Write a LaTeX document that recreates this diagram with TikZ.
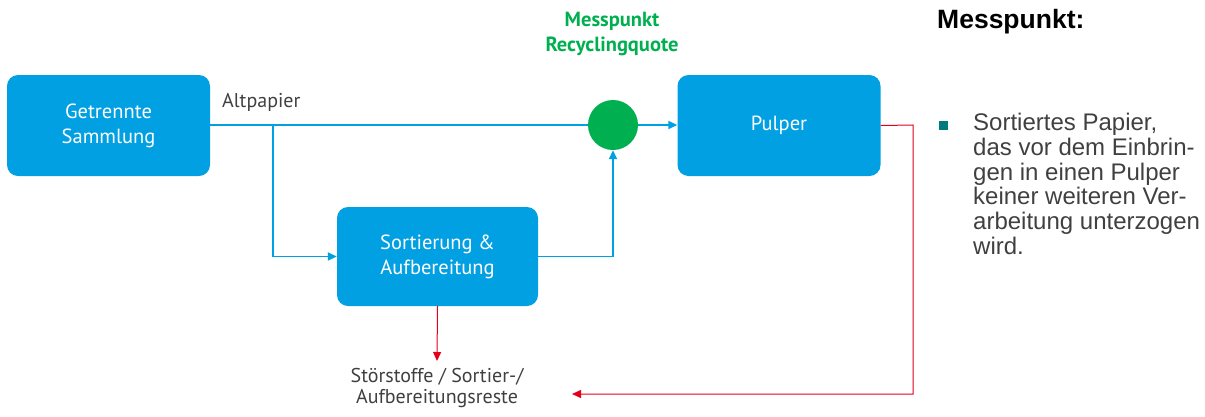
\documentclass[tikz,border=0pt]{standalone}
\usepackage{fontspec}
\setmainfont{PT Sans}
\newfontfamily\arialf{Liberation Sans}
\usetikzlibrary{arrows.meta}
\definecolor{boxblue}{RGB}{0,160,227}
\definecolor{mgreen}{RGB}{0,176,80}
\definecolor{mred}{RGB}{228,0,27}
\definecolor{tgray}{RGB}{64,64,64}
\definecolor{tteal}{RGB}{0,124,124}
\tikzset{
  procbox/.style={draw=none, fill=boxblue, rounded corners=11pt, text=white, align=center, font=\fontsize{20.5}{25}\selectfont, minimum width=203pt, minimum height=101pt, inner sep=0pt},
  flow/.style={draw=boxblue, line width=1.8pt, -{Triangle[length=9pt,width=8pt]}},
  flowplain/.style={draw=boxblue, line width=1.8pt},
  rej/.style={draw=mred, line width=1pt, -{Triangle[length=9pt,width=8pt]}},
  lbl/.style={text=tgray, align=center, font=\fontsize{20}{21}\selectfont, inner sep=0pt}
}
\begin{document}
\begin{tikzpicture}[x=1pt,y=-1pt]
\useasboundingbox (0,0) rectangle (1205,416);
\node[procbox] (samm) at (108.5,125.5) {Getrennte\\Sammlung};
\node[procbox] (pulp) at (779,125.5) {Pulper};
\node[procbox, minimum width=201pt, minimum height=99pt] (sort) at (437.5,256.5) {Sortierung \&\\Aufbereitung};
\node[circle, fill=mgreen, minimum size=50pt, inner sep=0pt] (mp) at (613,125) {};
\node[lbl, anchor=south west] (alt) at (222,112) {Altpapier};
\node[text=mgreen, align=center, font=\fontsize{20.5}{24.5}\selectfont\bfseries, inner sep=0pt] (mptxt) at (612,34) {Messpunkt\\Recyclingquote};
\node[lbl, font=\fontsize{20}{21}\selectfont] (rest) at (437,388) {Störstoffe / Sortier-/\\Aufbereitungsreste};
\coordinate (split) at (273,125);
\coordinate (ret) at (913,125);
\coordinate (retb) at (913,394);
\coordinate (restin) at (572,394);
\coordinate (restarr) at (437,361);
% flows
\draw[flowplain] (samm.east |- 0,125) -- (mp.west);
\draw[flow] (mp.east) -- (pulp.west |- mp.east);
\draw[flow] (split) |- (sort.west);
\draw[flow] (sort.east) -| (mp.south);
% rejects
\draw[rej] (sort.south) -- (restarr);
\draw[rej] (pulp.east) -- (ret) -- (retb) -- (restin);
% right panel
\node[anchor=west, inner sep=0pt, font=\arialf\fontsize{26.5}{30}\selectfont\bfseries] (mhead) at (937,22) {Messpunkt:};
\node[fill=tteal, minimum size=9pt, inner sep=0pt] (bul) at (943,125) {};
\node[anchor=north west, inner sep=0pt, align=left, text=tgray, font=\arialf\fontsize{24}{24.8}\selectfont] (btxt) at (973,113) {Sortiertes Papier,\\das vor dem Einbrin-\\gen in einen Pulper\\keiner weiteren Ver-\\arbeitung unterzogen\\wird.};
\end{tikzpicture}
\end{document}
